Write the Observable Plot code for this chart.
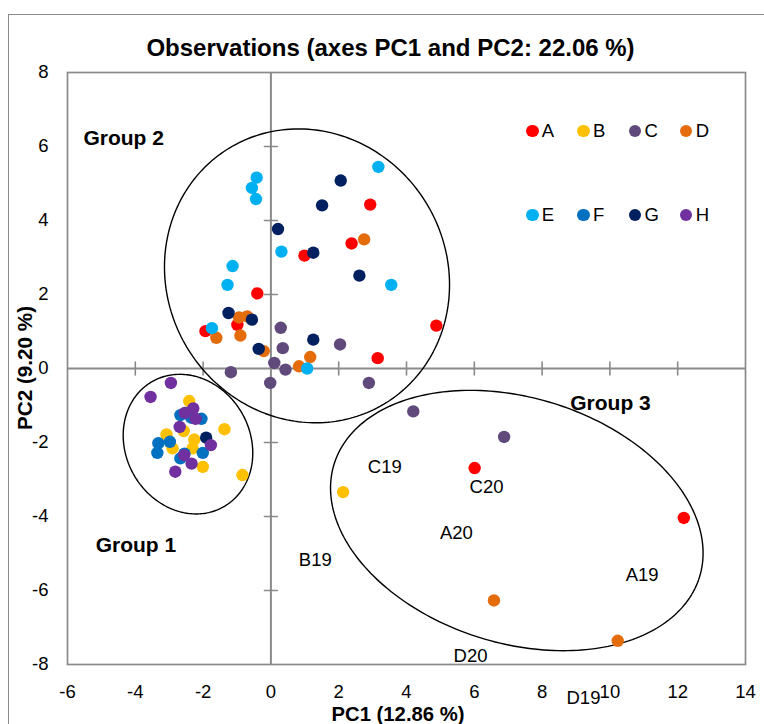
<!DOCTYPE html>
<html><head><meta charset="utf-8">
<script src="https://cdn.jsdelivr.net/npm/d3@7"></script>
<script src="https://cdn.jsdelivr.net/npm/@observablehq/plot@0.6"></script>
<style>
body{margin:0;background:#fff;font-family:"Liberation Sans",Arial,sans-serif;}
#wrap{position:relative;width:764px;height:724px;overflow:hidden;background:#fff;}
#wrap svg{position:absolute;left:0;top:0;}
.abs{position:absolute;white-space:nowrap;color:#000;line-height:1;}
</style></head><body><div id="wrap"></div>
<script>
// ---- data ----
const groups = ["A","B","C","D","E","F","G","H"];
const colors = ["#FF0000","#FFC000","#604A7B","#E46C0A","#00B0F0","#0070C0","#002060","#7030A0"];
const xTicks = [-6,-4,-2,0,2,4,6,8,10,12,14];
const yTicks = [-8,-6,-4,-2,0,2,4,6,8];
const seriesA = [[2.93,4.43],[2.38,3.38],[0.99,3.05],[-0.40,2.03],[-0.99,1.18],[-1.93,1.01],[4.88,1.16],[3.15,0.28],[6.01,-2.69],[12.18,-4.04]];
const seriesB = [[-2.41,-0.88],[-2.57,-1.69],[-3.08,-1.78],[-1.37,-1.64],[-2.26,-1.92],[-2.90,-2.16],[-2.31,-2.16],[-2.01,-2.66],[-0.84,-2.88],[2.13,-3.34]];
const seriesC = [[0.29,1.10],[2.04,0.65],[0.35,0.55],[0.10,0.15],[0.43,-0.03],[-1.18,-0.10],[-0.02,-0.39],[2.89,-0.39],[4.20,-1.16],[6.88,-1.85]];
const seriesD = [[2.75,3.49],[-0.94,1.38],[-0.70,1.41],[-1.61,0.83],[-0.90,0.89],[-0.21,0.47],[1.16,0.31],[0.83,0.06],[6.58,-6.27],[10.23,-7.36]];
const seriesE = [[3.17,5.45],[-0.42,5.16],[-0.56,4.88],[-0.44,4.58],[0.31,3.16],[3.55,2.26],[-1.13,2.77],[-1.28,2.26],[-1.74,1.09],[1.07,0.00]];
const seriesF = [[-2.67,-1.26],[-2.50,-1.20],[-2.35,-1.33],[-2.05,-1.36],[-2.98,-1.98],[-3.32,-2.02],[-3.35,-2.28],[-2.01,-2.28],[-2.55,-2.30],[-2.67,-2.43]];
const seriesG = [[2.06,5.08],[1.51,4.41],[0.21,3.77],[1.25,3.13],[2.61,2.51],[-1.25,1.50],[-0.56,1.32],[1.25,0.78],[-0.36,0.53],[-1.91,-1.87]];
const seriesH = [[-2.95,-0.39],[-3.55,-0.77],[-2.29,-1.08],[-2.54,-1.20],[-2.22,-1.36],[-2.69,-1.58],[-1.77,-2.07],[-2.56,-2.34],[-2.34,-2.57],[-2.82,-2.79]];
const sampleLabels = ["C19","C20","A20","A19","D20","B19","D19"];
const sampleLabelX = [3.36,6.36,5.47,10.95,5.89,1.31,9.22];
const sampleLabelY = [-2.67,-3.21,-4.45,-5.57,-7.78,-5.19,-8.92];
const groupNames = ["Group 2","Group 1","Group 3"];
const groupNameX = [-5.53,-5.17,8.83];
const groupNameY = [6.22,-4.78,-0.95];
// ellipses: center and conjugate half-axis vectors (data units)
const ellipseCx = [-2.446, 1.065, 7.254];
const ellipseCy = [-2.044, 2.504, -4.109];
const ellipseU = [[1.059,-1.690],[2.349,-3.422],[5.391,-1.522]];
const ellipseV = [[-1.591,-0.839],[-3.487,-2.015],[-1.063,-3.172]];

// ---- build ----
const seriesList = [seriesA,seriesB,seriesC,seriesD,seriesE,seriesF,seriesG,seriesH];
const points = groups.flatMap((g,i)=>seriesList[i].map(([x,y])=>({group:g,x,y})));
const labels = sampleLabels.map((t,i)=>({text:t,x:sampleLabelX[i],y:sampleLabelY[i]}));
const gLabels = groupNames.map((t,i)=>({text:t,x:groupNameX[i],y:groupNameY[i]}));
const N = 240;
const ellPts = ellipseCx.flatMap((cx,k)=>d3.range(N+1).map(j=>{
  const t = 2*Math.PI*j/N;
  return {id:k,
    x: cx + ellipseU[k][0]*Math.cos(t) + ellipseV[k][0]*Math.sin(t),
    y: ellipseCy[k] + ellipseU[k][1]*Math.cos(t) + ellipseV[k][1]*Math.sin(t)};
}));
const gray = "#8a8a8a";
const tickShape = {draw(ctx, l){ ctx.moveTo(0,0); ctx.lineTo(0,-l); }};
const axTicksX = xTicks.filter(d=>d!==0 && d!==-6 && d!==14);
const axTicksY = yTicks.filter(d=>d!==0 && d!==-8 && d!==8);

const chart = Plot.plot({
  width:764, height:724,
  marginLeft:67, marginRight:19, marginTop:72, marginBottom:60,
  style:{fontFamily:"'Liberation Sans', Arial, sans-serif", color:"#000", background:"transparent", overflow:"visible"},
  x:{domain:[-6,14]},
  y:{domain:[-8,8]},
  color:{domain:groups, range:colors},
  marks:[
    Plot.frame({stroke:gray, strokeWidth:1.7}),
    Plot.axisX({ticks:xTicks, tickSize:0, tickPadding:20, fontSize:18.5, tickFormat:d=>String(d), label:null}),
    Plot.axisY({ticks:yTicks, tickSize:0, tickPadding:19, fontSize:18.5, tickFormat:d=>String(d), label:null}),
    Plot.ruleX([0],{stroke:gray, strokeWidth:2}),
    Plot.ruleY([0],{stroke:gray, strokeWidth:2}),
    Plot.vector(axTicksX,{x:d=>d, y:()=>0, length:13, rotate:0, anchor:"middle", shape:tickShape, stroke:gray, strokeWidth:1.6}),
    Plot.vector(axTicksY,{x:()=>0, y:d=>d, length:13, rotate:90, anchor:"middle", shape:tickShape, stroke:gray, strokeWidth:1.6}),
    Plot.line(ellPts,{x:"x", y:"y", z:"id", stroke:"#000", strokeWidth:1.4, curve:"linear"}),
    Plot.dot(points,{x:"x", y:"y", fill:"group", r:6.2, stroke:"none"}),
    Plot.text(labels,{x:"x", y:"y", text:"text", fontSize:18.5, fill:"#000"}),
    Plot.text(gLabels,{x:"x", y:"y", text:"text", fontSize:21, fontWeight:"bold", textAnchor:"start", fill:"#000"})
  ]
});
const wrap = document.getElementById("wrap");
// outer chart-area border (top and left visible)
const border = document.createElement("div");
border.className = "abs";
Object.assign(border.style,{left:"8px",top:"14px",width:"800px",height:"800px",borderTop:"1.5px solid "+gray,borderLeft:"1.5px solid "+gray});
wrap.appendChild(border);
wrap.appendChild(chart);

function addText(txt, css){
  const d = document.createElement("div");
  d.className = "abs"; d.textContent = txt;
  Object.assign(d.style, css);
  wrap.appendChild(d);
  return d;
}
addText("Observations (axes PC1 and PC2: 22.06 %)",{left:"390.5px",top:"48px",fontSize:"24px",fontWeight:"bold",transform:"translate(-50%,-50%)"});
addText("PC1 (12.86 %)",{left:"398px",top:"713.5px",fontSize:"20.3px",fontWeight:"bold",transform:"translate(-50%,-50%)"});
addText("PC2 (9.20 %)",{left:"25px",top:"367.5px",fontSize:"20.7px",fontWeight:"bold",transform:"translate(-50%,-50%) rotate(-90deg)"});
// legend
groups.forEach((g,i)=>{
  const col = i%4, row = Math.floor(i/4);
  const cx = 532.3 + col*51.3, cy = 131 + row*84;
  const dot = document.createElement("div");
  dot.className = "abs";
  Object.assign(dot.style,{left:(cx-6.3)+"px",top:(cy-6.3)+"px",width:"12.6px",height:"12.6px",borderRadius:"50%",background:colors[i]});
  wrap.appendChild(dot);
  addText(g,{left:(cx+9.5)+"px",top:cy+"px",fontSize:"18.5px",transform:"translateY(-50%)"});
});
</script></body></html>
